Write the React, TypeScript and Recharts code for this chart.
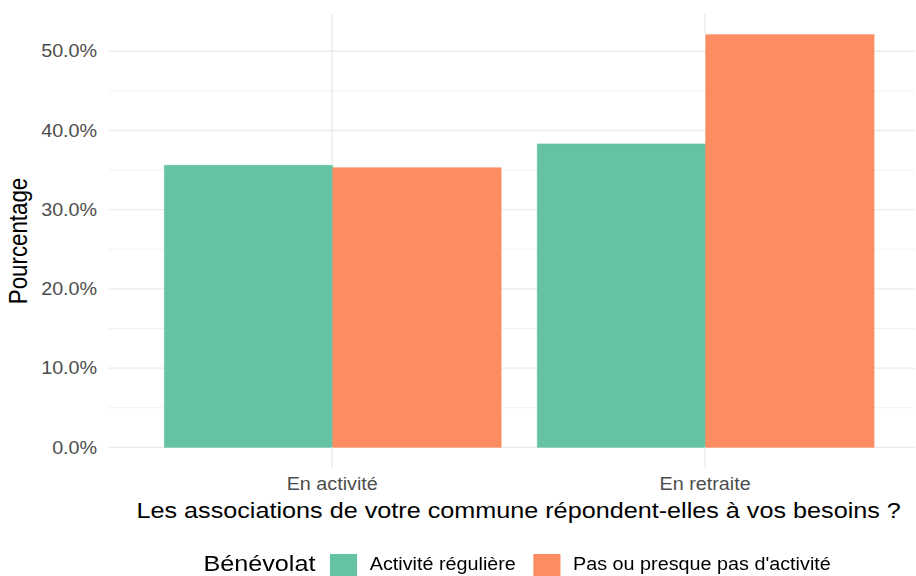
import React from "react";
import {
  BarChart,
  Bar,
  XAxis,
  YAxis,
  CartesianGrid,
  ReferenceLine,
  Legend,
} from "recharts";

const categories = ["En activité", "En retraite"];
const reguliere = [35.6, 38.3];
const pasActivite = [35.3, 52.1];
const majorTicks = [0, 10, 20, 30, 40, 50];
const minorTicks = [5, 15, 25, 35, 45];

const seriesNames = ["Activité régulière", "Pas ou presque pas d'activité"];
const colors = ["#66C2A5", "#FC8D62"];

const data = categories.map((name, i) => ({
  name,
  reguliere: reguliere[i],
  pas: pasActivite[i],
}));

// ggplot-style 5% expansion around the data range
const maxVal = Math.max(...reguliere, ...pasActivite);
const pad = maxVal * 0.05;
const yMin = -pad;
const yMax = maxVal + pad;

const STRETCH = 1.13;
const W = 810;
const H = 576;
const SMALL = 17.5;
const LARGE = 22.3;

const LegendBox = (props: any) => {
  const payload = props.payload || [];
  return (
    <div
      style={{
        height: 48,
        display: "flex",
        alignItems: "flex-start",
        paddingLeft: 180,
        paddingTop: 26,
        boxSizing: "border-box",
        color: "#000",
      }}
    >
      <span
        style={{
          fontSize: LARGE,
          lineHeight: "24.8px",
          position: "relative",
          top: -2,
          marginRight: 12.4,
        }}
      >
        Bénévolat
      </span>
      {payload.map((p: any, i: number) => (
        <div
          key={p.value}
          style={{ display: "flex", alignItems: "flex-start", marginLeft: i === 0 ? 0 : 15 }}
        >
          <span style={{ width: 24.8, height: 24.8, background: p.color, display: "inline-block" }} />
          <span
            style={{
              fontSize: SMALL,
              lineHeight: "24.8px",
              marginLeft: 10.8,
              position: "relative",
              top: -2,
            }}
          >
            {p.value}
          </span>
        </div>
      ))}
    </div>
  );
};

export default function App() {
  return (
    <div
      style={{
        position: "absolute",
        left: 0,
        top: 0,
        width: W,
        height: H,
        transform: `scaleX(${STRETCH})`,
        transformOrigin: "0 0",
        fontFamily: '"Liberation Sans", Arial, sans-serif',
        background: "#fff",
      }}
    >
      <BarChart
        width={W}
        height={H}
        data={data}
        margin={{ top: 14, right: 0, bottom: 0, left: 0 }}
        barCategoryGap="5%"
        barGap={0}
      >
        {/* minor then major horizontal grid, both behind the bars */}
        <CartesianGrid
          horizontalValues={minorTicks}
          vertical={false}
          stroke="#F2F2F2"
          strokeWidth={1}
        />
        <CartesianGrid
          horizontalValues={majorTicks}
          vertical={false}
          stroke="#EBEBEB"
          strokeWidth={1.3}
        />
        {/* vertical grid: only where no bar covers it */}
        {categories.map((c, i) => (
          <ReferenceLine
            key={c + "top"}
            segment={[
              { x: c, y: Math.max(reguliere[i], pasActivite[i]) },
              { x: c, y: yMax },
            ]}
            stroke="#EBEBEB"
            strokeWidth={1.3}
          />
        ))}
        {categories.map((c) => (
          <ReferenceLine
            key={c + "bottom"}
            segment={[
              { x: c, y: yMin },
              { x: c, y: 0 },
            ]}
            stroke="#EBEBEB"
            strokeWidth={1.3}
          />
        ))}
        <XAxis
          dataKey="name"
          height={60}
          padding={{ left: 33, right: 21 }}
          axisLine={false}
          tickLine={false}
          tickSize={0}
          tickMargin={10}
          tick={{ fontSize: SMALL, fill: "#4D4D4D" }}
          label={{
            value: "Les associations de votre commune répondent-elles à vos besoins ?",
            position: "insideBottom",
            offset: 10,
            dx: 6,
            style: { fontSize: LARGE, fill: "#000" },
          }}
        />
        <YAxis
          type="number"
          width={96}
          domain={[yMin, yMax]}
          ticks={majorTicks}
          interval={0}
          axisLine={false}
          tickLine={false}
          tickSize={0}
          tickMargin={10}
          tick={{ fontSize: SMALL, fill: "#4D4D4D" }}
          tickFormatter={(v: number) => `${v.toFixed(1)}%`}
          label={{
            value: "Pourcentage",
            angle: -90,
            position: "insideLeft",
            offset: 16,
            style: { textAnchor: "middle", fontSize: LARGE, fill: "#000" },
          }}
        />
        <Legend verticalAlign="bottom" content={<LegendBox />} />
        <Bar
          dataKey="reguliere"
          name={seriesNames[0]}
          fill={colors[0]}
          stroke={colors[0]}
          strokeWidth={0.6}
          isAnimationActive={false}
        />
        <Bar
          dataKey="pas"
          name={seriesNames[1]}
          fill={colors[1]}
          stroke={colors[1]}
          strokeWidth={0.6}
          isAnimationActive={false}
        />
      </BarChart>
    </div>
  );
}
